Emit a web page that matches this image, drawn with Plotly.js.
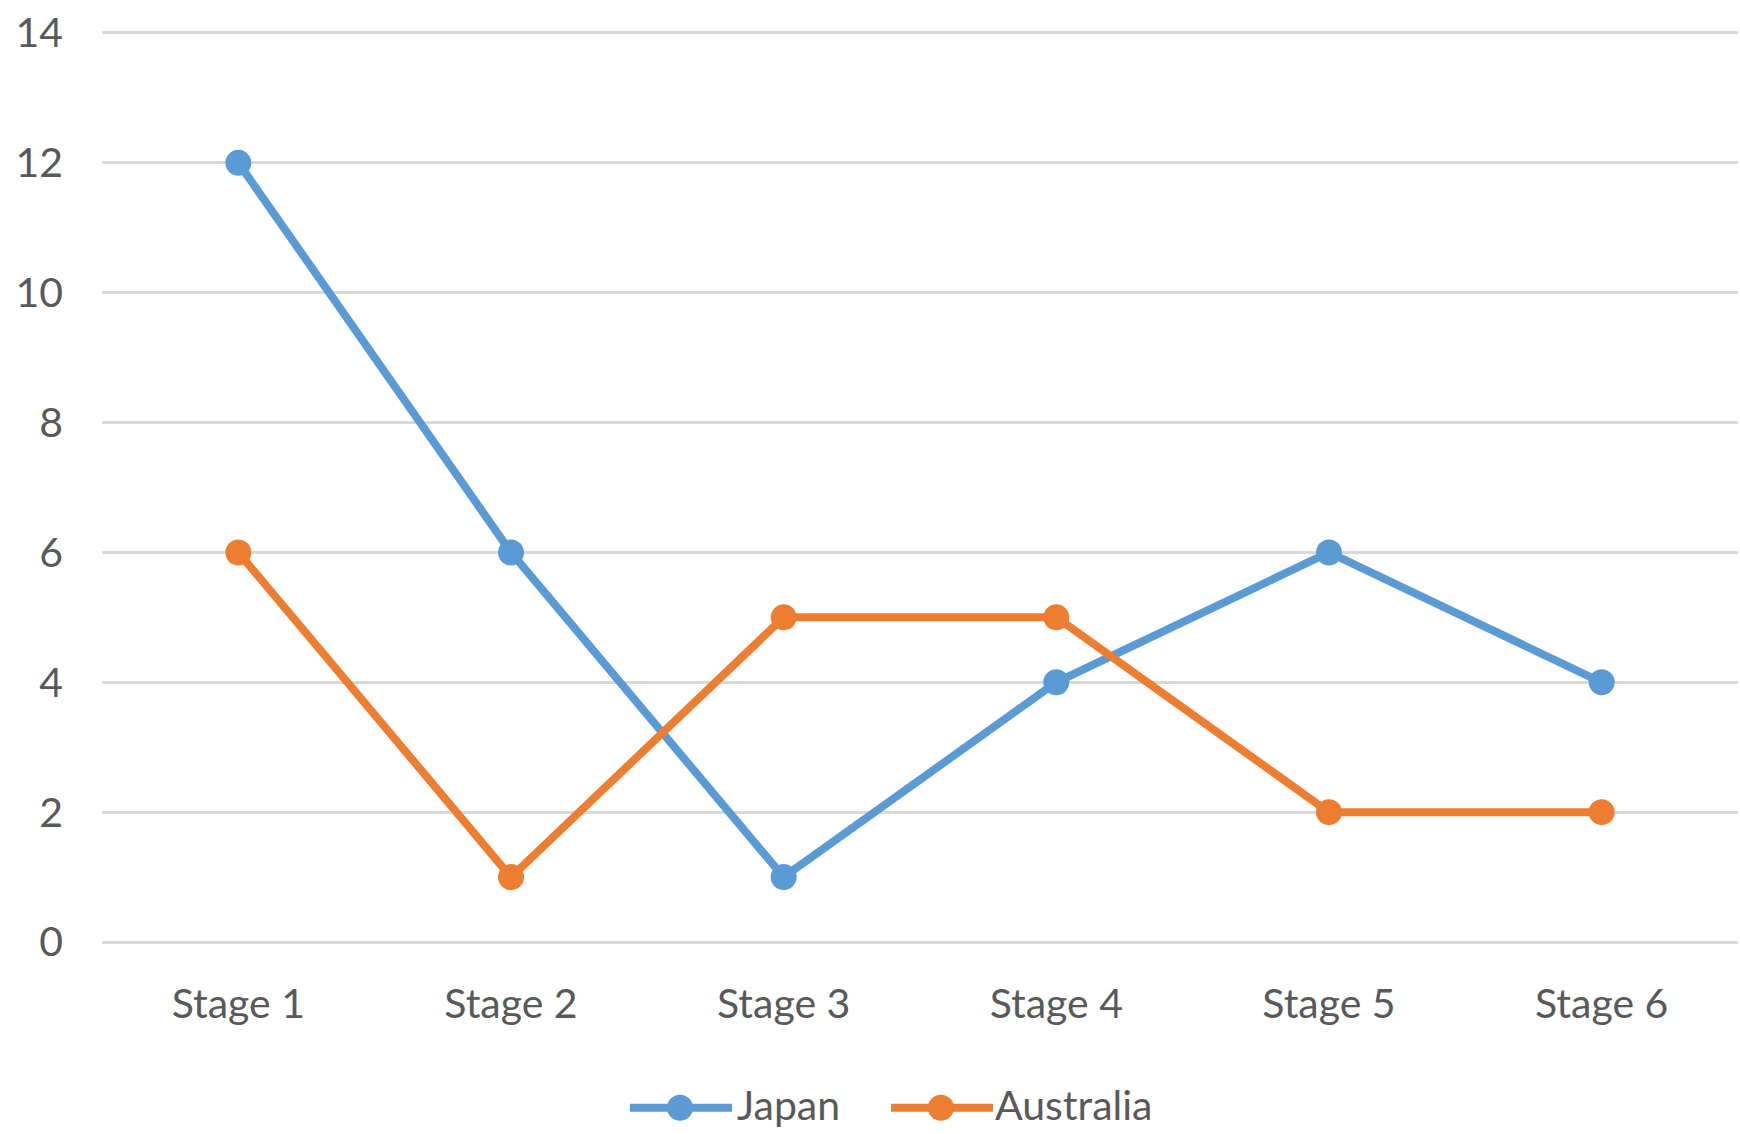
<!DOCTYPE html>
<html><head><meta charset="utf-8">
<script src="https://cdn.plot.ly/plotly-3.0.1.min.js"></script>
<style>html,body{margin:0;padding:0;background:#fff}#chart{width:1740px;height:1134px}</style>
</head><body><div id="chart"></div>
<script>
const categories = ["Stage 1","Stage 2","Stage 3","Stage 4","Stage 5","Stage 6"];
const japan = [12,6,1,4,6,4];
const australia = [6,1,5,5,2,2];
const yTicks = [0,2,4,6,8,10,12,14];
const seriesNames = ["Japan","Australia"];
const seriesColors = ["#5B9BD5","#ED7D31"];

const FONT = "Lato, 'Open Sans', sans-serif";
const TXT = "#595959";
const seriesData = [japan, australia];
const traces = seriesData.map((vals, i) => ({
  x: categories, y: vals, name: seriesNames[i], type: "scatter", mode: "lines+markers",
  line: {color: seriesColors[i], width: 8}, marker: {color: seriesColors[i], size: 26},
  cliponaxis: false, showlegend: false
}));

// custom legend (long line symbol with centered marker, like the original)
const legY = -0.1793;
const legTextY = -0.1760;
const legX = [[0.3227, 0.3851, 0.3533, 0.3878], [0.4823, 0.5446, 0.5128, 0.5455]];
const shapes = [];
const annotations = [];
seriesNames.forEach((nm, i) => {
  const [x0, x1, xm, xt] = legX[i];
  shapes.push({type: "line", xref: "paper", yref: "paper", x0: x0, x1: x1, y0: legY, y1: legY,
               line: {color: seriesColors[i], width: 8}});
  shapes.push({type: "circle", xref: "paper", yref: "paper", xsizemode: "pixel", ysizemode: "pixel",
               xanchor: xm, yanchor: legY, x0: -13, x1: 13, y0: -13, y1: 13,
               fillcolor: seriesColors[i], line: {width: 0}});
  annotations.push({xref: "paper", yref: "paper", x: xt, y: legTextY, xanchor: "left", yanchor: "middle",
                    text: nm, showarrow: false, borderpad: 0, font: {size: 41, color: TXT, family: FONT}});
});

const layout = {
  width: 1740, height: 1134,
  margin: {l: 102, r: 2, t: 31, b: 190},
  paper_bgcolor: "#fff", plot_bgcolor: "#fff",
  font: {family: FONT, color: TXT, size: 41},
  xaxis: {type: "category", range: [-0.5, 5.5], showgrid: false, zeroline: false, showline: false,
          ticks: "", ticklabelstandoff: 32, tickfont: {size: 41, color: TXT}},
  yaxis: {range: [-0.03, 14.03], tickvals: yTicks, showgrid: true, gridcolor: "#D9D9D9", gridwidth: 3,
          zeroline: true, zerolinecolor: "#D9D9D9", zerolinewidth: 3, showline: false, ticks: "",
          ticklabelstandoff: 38, tickfont: {size: 41, color: TXT}},
  showlegend: false,
  shapes: shapes,
  annotations: annotations
};
Plotly.newPlot("chart", traces, layout, {displayModeBar: false});
</script></body></html>
